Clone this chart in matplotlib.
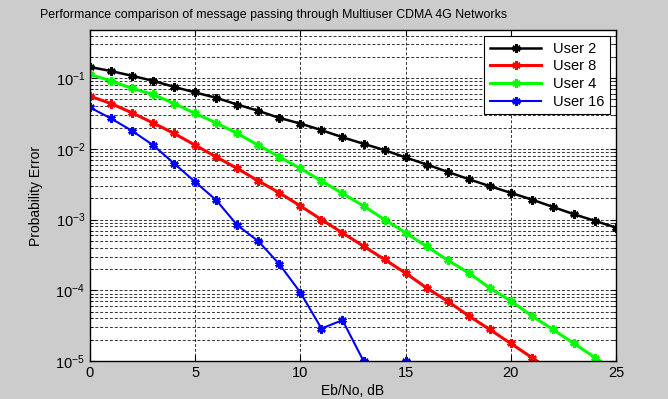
import numpy as np
import matplotlib
matplotlib.use("Agg")
import matplotlib.pyplot as plt
from matplotlib.ticker import LogLocator, FixedLocator, NullFormatter

plt.rcParams['font.family'] = ['Liberation Sans', 'DejaVu Sans']
plt.rcParams['mathtext.fontset'] = 'custom'
plt.rcParams['mathtext.rm'] = 'Liberation Sans'
plt.rcParams['mathtext.it'] = 'Liberation Sans'

ebno = list(range(0, 26))

user2 = [0.144, 0.126, 0.108, 0.0916, 0.0753, 0.0628, 0.0527, 0.0424, 0.0345,
         0.0274, 0.0228, 0.0184, 0.0146, 0.0118, 0.0096, 0.00756, 0.00601,
         0.00473, 0.00373, 0.00297, 0.00239, 0.00192, 0.00151, 0.00119,
         0.00096, 0.00077]
user8 = [0.0556, 0.0438, 0.0323, 0.0233, 0.0165, 0.01128, 0.0077, 0.00528,
         0.00352, 0.00239, 0.00156, 0.001, 0.00065, 0.00042, 0.000273,
         0.000175, 0.000108, 7.0e-5, 4.35e-5, 2.79e-5, 1.77e-5, 1.12e-5,
         7.1e-6, np.nan, np.nan, np.nan]
user4 = [0.1127, 0.0916, 0.0715, 0.0588, 0.0438, 0.0317, 0.0233, 0.0165,
         0.01128, 0.0077, 0.00528, 0.00352, 0.00234, 0.00156, 0.001,
         0.000649, 0.000418, 0.000267, 0.000176, 0.000108, 7.08e-5, 4.35e-5,
         2.79e-5, 1.77e-5, 1.12e-5, 7.1e-6]
user16 = [0.0385, 0.0269, 0.0180, 0.01128, 0.00621, 0.00341, 0.00188,
          0.000833, 0.000495, 0.000234, 9.3e-5, 2.88e-5, 3.78e-5, 1e-5,
          np.nan, 1e-5, np.nan, np.nan, np.nan, np.nan, np.nan, np.nan,
          np.nan, np.nan, np.nan, np.nan]

series = [("User 2", user2, "#000000", 1.8),
          ("User 8", user8, "#ff0000", 2.2),
          ("User 4", user4, "#00ff00", 2.2),
          ("User 16", user16, "#0000ff", 1.5)]

fig = plt.figure(figsize=(6.68, 3.99), dpi=100, facecolor="#cccccc")
ax = fig.add_axes([90/668, 38/399, 526/668, 331/399])
ax.set_facecolor("white")

for name, vals, col, lw in series:
    ax.semilogy(ebno, vals, color=col, lw=lw, marker=(6, 2, 0),
                markersize=6, markeredgewidth=1.8, label=name)

ax.set_xlim(0, 25)
ax.set_ylim(1e-5, 0.48)
ax.xaxis.set_major_locator(FixedLocator([0, 5, 10, 15, 20, 25]))
ax.yaxis.set_major_locator(LogLocator(base=10, numticks=10))
ax.yaxis.set_minor_locator(LogLocator(base=10, subs=np.arange(2, 10), numticks=20))
ax.yaxis.set_minor_formatter(NullFormatter())

gridstyle = dict(color="black", linestyle=(0, (3, 2)), linewidth=0.7, alpha=0.8)
ax.grid(True, which="major", axis="both", **gridstyle)
ax.grid(True, which="minor", axis="y", **gridstyle)
ax.set_axisbelow(True)

ax.tick_params(axis="both", which="both", direction="in", top=True, right=True,
               labelsize=10.5, length=4)
ax.tick_params(axis="y", which="minor", length=2)
for s in ax.spines.values():
    s.set_linewidth(1.0)
    s.set_color("black")

ax.set_xlabel("Eb/No, dB", fontsize=10, labelpad=3)
ax.set_ylabel("Probability Error", fontsize=10, labelpad=9)
fig.text(274/668, 1 - 15/399, "Performance comparison of message passing through Multiuser CDMA 4G Networks",
         ha="center", va="center", fontsize=8.9)

leg = ax.legend(loc="upper right", fontsize=10.5, frameon=True, fancybox=False,
                edgecolor="black", framealpha=1, borderaxespad=0.4,
                handlelength=3.5, labelspacing=0.25, borderpad=0.4)
leg.get_frame().set_linewidth(0.8)

fig.savefig("out.png", dpi=100, facecolor=fig.get_facecolor())
